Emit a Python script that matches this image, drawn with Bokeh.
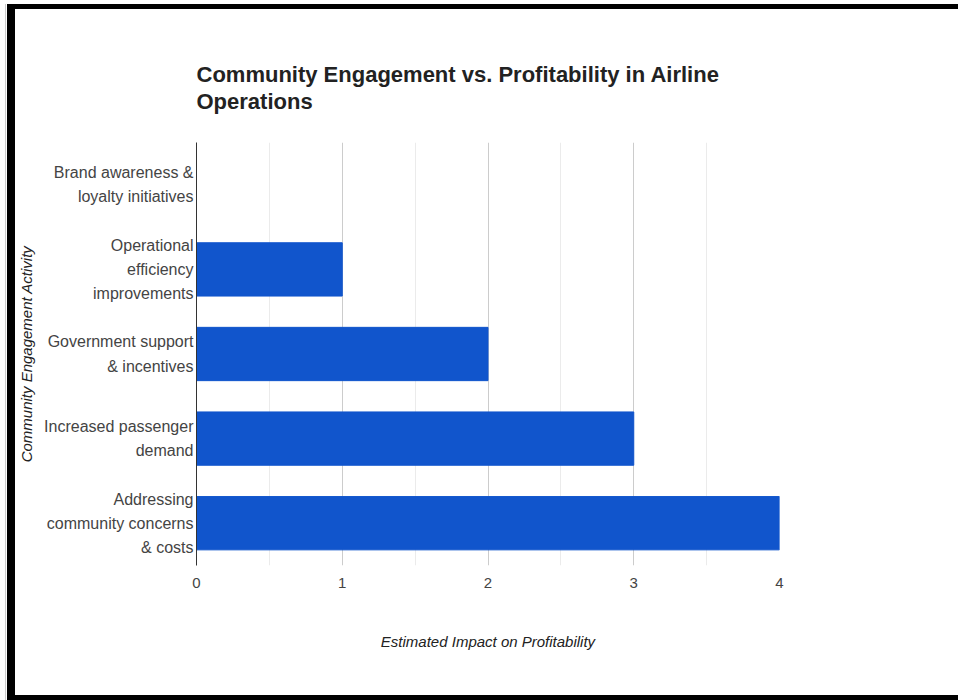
from bokeh.plotting import figure
from bokeh.models import FactorRange, FixedTicker
from bokeh.embed import file_html
from bokeh.resources import INLINE

categories = [
    "Brand awareness &\nloyalty initiatives",
    "Operational\nefficiency\nimprovements",
    "Government support\n& incentives",
    "Increased passenger\ndemand",
    "Addressing\ncommunity concerns\n& costs",
]
impact = [0, 1, 2, 3, 4]
x_ticks = [0, 1, 2, 3, 4]
minor_ticks = [0.5, 1.5, 2.5, 3.5]

FONT = "Liberation Sans"
BLUE = "#1155cc"

p = figure(
    width=958, height=700,
    y_range=FactorRange(factors=list(reversed(categories))),
    x_range=(0, 4),
    output_backend="svg", toolbar_location=None,
    min_border_left=196, min_border_right=958 - 779,
    min_border_top=142, min_border_bottom=700 - 565,
)
# decorative outer frame drawn as CSS backgrounds behind a transparent border area
p.styles = {
    "background": (
        "linear-gradient(#000,#000) 7px 4px / 8px 696px no-repeat, "
        "linear-gradient(#000,#000) 7px 4px / 951px 5px no-repeat, "
        "linear-gradient(#000,#000) 7px 695px / 951px 5px no-repeat, "
        "linear-gradient(#ccc,#ccc) 5px 4px / 1px 696px no-repeat, #fff"
    ),
}

p.hbar(y=categories, right=impact, left=0, height=0.63, color=BLUE)

p.outline_line_color = None
p.background_fill_color = "white"
p.border_fill_color = None

# grid
p.xgrid.ticker = FixedTicker(ticks=x_ticks, minor_ticks=minor_ticks)
p.xgrid.grid_line_color = "#cccccc"
p.xgrid.minor_grid_line_color = "#ebebeb"
p.ygrid.grid_line_color = None

xa = p.xaxis[0]
xa.ticker = FixedTicker(ticks=x_ticks)
xa.axis_line_color = None
xa.major_tick_line_color = None
xa.minor_tick_line_color = None
xa.major_label_text_font = FONT
xa.major_label_text_font_size = "15px"
xa.major_label_text_color = "#444444"
xa.major_label_standoff = 6
xa.axis_label = "Estimated Impact on Profitability"
xa.axis_label_text_font = FONT
xa.axis_label_text_font_style = "italic"
xa.axis_label_text_font_size = "15px"
xa.axis_label_text_color = "#222222"
xa.axis_label_standoff = 42

ya = p.yaxis[0]
ya.axis_line_color = "#333333"
ya.major_tick_line_color = None
ya.minor_tick_line_color = None
ya.major_label_text_font = FONT
ya.major_label_text_font_size = "16px"
ya.major_label_text_color = "#444444"
ya.major_label_text_line_height = 1.42
ya.major_label_standoff = -3
ya.axis_label = "Community Engagement Activity"
ya.axis_label_text_font = FONT
ya.axis_label_text_font_style = "italic"
ya.axis_label_text_font_size = "15px"
ya.axis_label_text_color = "#222222"
ya.axis_label_standoff = 6

p.title.text = "Community Engagement vs. Profitability in Airline\nOperations"
p.title.text_font = FONT
p.title.text_font_size = "22px"
p.title.text_font_style = "bold"
p.title.text_color = "#222222"
p.title.text_line_height = 1.1
p.title.align = "left"
p.title.standoff = 57

open("out.html", "w").write(file_html(p, INLINE))
